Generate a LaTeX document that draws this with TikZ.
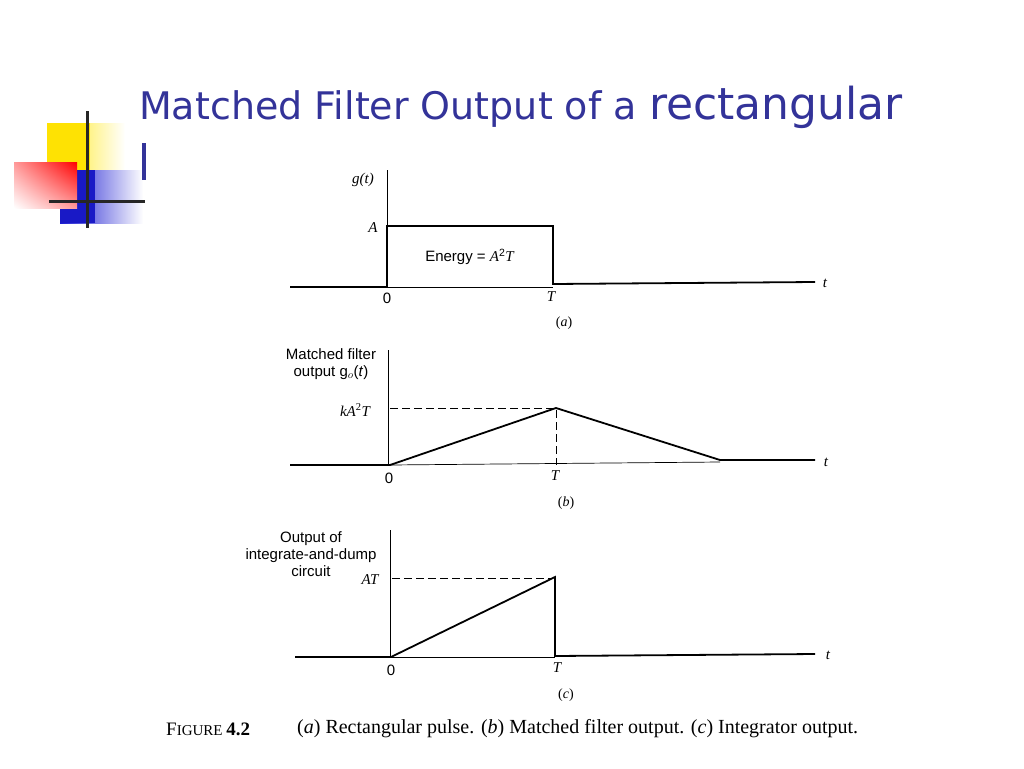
\documentclass[tikz,border=0pt]{standalone}
\usepackage{fontspec}
\usetikzlibrary{shadings}
\setmainfont{Liberation Serif}
\setsansfont{DejaVu Sans}
\newfontfamily\lsans{Liberation Sans}
\newcommand{\sq}{\textsuperscript{2}}
\begin{document}
\begin{tikzpicture}[x=1pt,y=-1pt,
  ax/.style={line width=0.7pt},
  sig/.style={line width=1.8pt},
  dsh/.style={line width=0.8pt,dash pattern=on 8pt off 4pt},
  lab/.style={font=\lsans\fontsize{15}{17}\selectfont,inner sep=0pt},
  mth/.style={font=\itshape\fontsize{15}{17}\selectfont,inner sep=0pt},
  capt/.style={font=\fontsize{14}{16}\selectfont,inner sep=0pt}]
\useasboundingbox (0,0) rectangle (1024,768);
\fill[white] (0,0) rectangle (1024,768);
\definecolor{ttl}{HTML}{333399}
% logo
\shade[left color=yellow!80!orange, right color=white] (47,123) rectangle (125,172);
\fill[yellow!85!orange] (47,123) rectangle (90,172);
\shade[left color=blue!80!black!90, right color=white] (60,170) rectangle (143,223);
\fill[blue!75!black!90] (60,170) rectangle (95,223);
\shade[upper right=red, lower left=white, upper left=red!40, lower right=red!40] (14,162) rectangle (77,208);
\draw[line width=3pt,black!85] (87,111) -- (87,228);
\draw[line width=3pt,black!85] (49,201) -- (145,201);
% title
\node[anchor=base west,inner sep=0pt,text=ttl,font=\sffamily\fontsize{38}{40}\selectfont] (title) at (139,119) {Matched Filter Output of a \fontsize{44}{46}\selectfont rectangular};
\fill[ttl] (142,143) rectangle (146,180);
% (a)
\coordinate (a0) at (387,287);
\draw[ax] (387,170) -- (a0);
\draw[sig] (290,287) -- (a0);
\draw[sig] (a0) -- (387,226) -- (553,226) -- (553,284) -- (815,282);
\draw[ax] (a0) -- (553,287);
\node[mth] (ga) at (363,180) {g(t)};
\node[mth] (Aa) at (373,228) {A};
\node[lab] (en) at (470,257) {Energy = \textit{\rmfamily A}\sq\textit{\rmfamily T}};
\node[lab] (z0a) at (387,298) {0};
\node[mth] (Ta) at (551,297) {T};
\node[mth] (ta) at (825,283) {t};
\node[capt] (ca) at (564,323) {(\textit{a})};
% (b)
\draw[ax] (388,350) -- (388,465);
\draw[sig] (290,465) -- (390,465) -- (556,408) -- (720,460) -- (815,460);
\draw[ax] (390,465) -- (720,462);
\draw[dsh] (390,408) -- (556,408) -- (556,465);
\node[lab,align=center] (mb) at (331,364) {Matched filter\\output g$_o$(\textit{t})};
\node[mth] (kb) at (355,410) {kA\upshape\sq\itshape T};
\node[lab] (z0b) at (389,478) {0};
\node[mth] (Tb) at (555,476) {T};
\node[mth] (tb) at (826,462) {t};
\node[capt] (cb) at (566,503) {(\textit{b})};
% (c)
\draw[ax] (390,530) -- (390,657);
\draw[sig] (295,657) -- (391,657) -- (555,577) -- (555,656) -- (815,654);
\draw[ax] (391,657) -- (555,657);
\draw[dsh] (392,578) -- (553,578);
\node[lab,align=center] (oc) at (311,554) {Output of\\integrate-and-dump\\circuit};
\node[mth] (ATc) at (370,580) {AT};
\node[lab] (z0c) at (391,670) {0};
\node[mth] (Tc) at (557,668) {T};
\node[mth] (tc) at (828,655) {t};
\node[capt] (cc) at (566,695) {(\textit{c})};
% caption
\node[anchor=base west,inner sep=0pt,font=\fontsize{19}{21}\selectfont] (fig) at (166,735) {F\fontsize{15}{17}\selectfont IGURE \fontsize{19}{21}\selectfont\textbf{4.2}};
\node[anchor=base west,inner sep=0pt,font=\fontsize{20}{22}\selectfont] (cap) at (297,733) {(\textit{a}) Rectangular pulse. (\textit{b}) Matched filter output. (\textit{c}) Integrator output.};
\end{tikzpicture}
\end{document}
